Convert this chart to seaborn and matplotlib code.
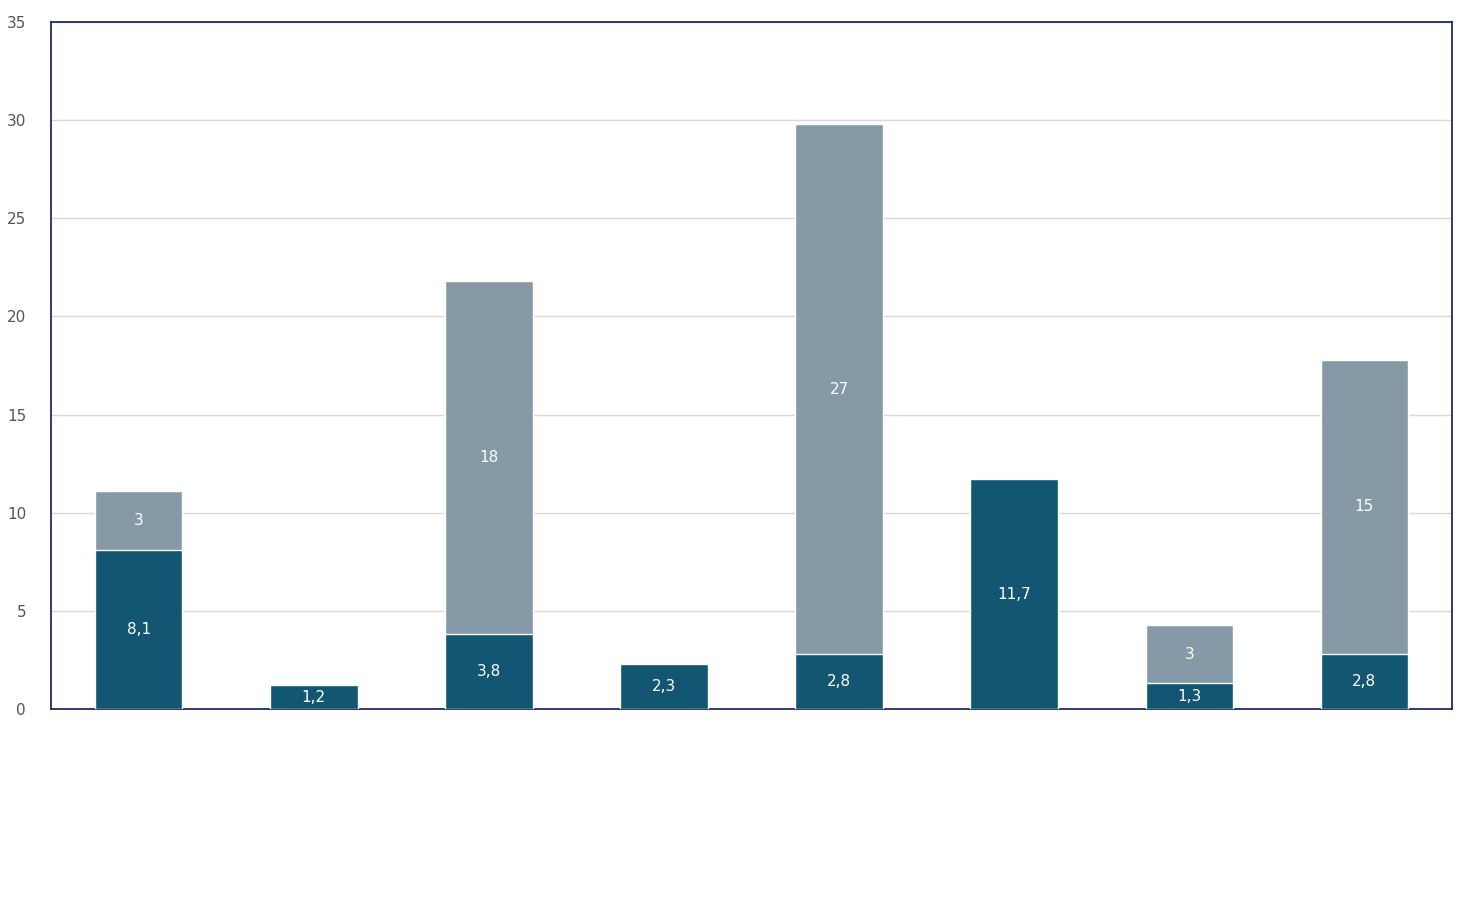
import pandas as pd
import matplotlib.pyplot as plt
import seaborn as sns

categories = ["A", "B", "C", "D", "E", "F", "G", "H"]
base_values = [8.1, 1.2, 3.8, 2.3, 2.8, 11.7, 1.3, 2.8]
top_values = [3, 0, 18, 0, 27, 0, 3, 15]

sns.set_theme(style="white")
plt.rcParams['font.family'] = ['DejaVu Sans']

df = pd.DataFrame({"cat": categories, "base": base_values, "top": top_values})
df["total"] = df["base"] + df["top"]

fig = plt.figure(figsize=(14.76, 8.97), dpi=100)
ax = fig.add_axes([0.0346, 0.2096, 0.9491, 0.7659])

sns.barplot(data=df, x="cat", y="total", color="#8699A6", width=0.5,
            saturation=1, ax=ax, zorder=2)
sns.barplot(data=df, x="cat", y="base", color="#135672", width=0.5,
            saturation=1, ax=ax, zorder=3)

for i, row in df.iterrows():
    ax.text(i, row["base"] / 2, f"{row['base']:g}".replace(".", ","),
            ha="center", va="center", color="white", fontsize=11, zorder=4)
    if row["top"] > 0:
        ax.text(i, row["base"] + row["top"] / 2, f"{row['top']:g}",
                ha="center", va="center", color="white", fontsize=11, zorder=4)

ax.set_xlim(-0.5, 7.5)
ax.set_ylim(0, 35)
ax.set_yticks(range(0, 36, 5))
ax.yaxis.grid(True, color="#D9D9D9", linewidth=1, zorder=0)
ax.set_axisbelow(True)
ax.set_xticks([])
ax.set_xlabel("")
ax.set_ylabel("")
ax.tick_params(axis="y", colors="#555555", labelsize=11, length=0, pad=18)
for s in ax.spines.values():
    s.set_color("#1F2D5A")
    s.set_linewidth(1.3)

fig.savefig("out.png", dpi=100)
